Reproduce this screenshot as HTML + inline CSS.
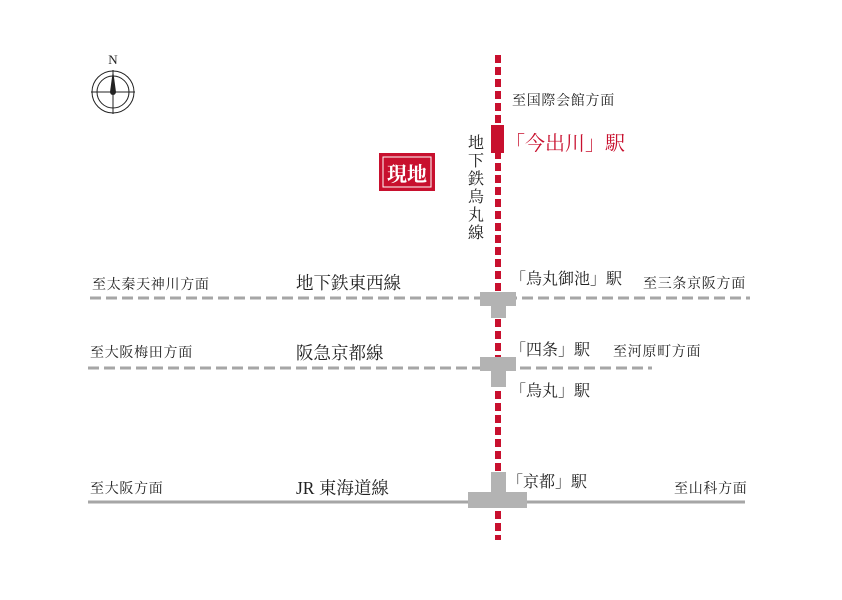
<!DOCTYPE html>
<html><head><meta charset="utf-8"><style>
body{margin:0;background:#fff}
svg text{font-family:"Liberation Serif","Noto Serif CJK SC",serif;fill:#222}
.s{font-size:14px;letter-spacing:0.7px}
.l{font-size:17.5px}
</style></head><body>
<svg width="842" height="595" viewBox="0 0 842 595" xmlns="http://www.w3.org/2000/svg">
<!-- compass -->
<g stroke="#222" fill="none" stroke-width="1">
<circle cx="113" cy="92" r="21"/><circle cx="113" cy="92" r="16"/>
<line x1="91" y1="92" x2="135" y2="92"/><line x1="113" y1="70" x2="113" y2="114"/>
</g>
<path d="M113 70 L116 92 A3 3 0 0 1 110 92 Z" fill="#222"/>
<text x="113" y="64" font-size="13" text-anchor="middle" font-family="Liberation Sans">N</text>
<!-- gray lines -->
<line x1="90" y1="298" x2="750" y2="298" stroke="#a6a6a6" stroke-width="3" stroke-dasharray="11,5"/>
<line x1="88" y1="368" x2="652" y2="368" stroke="#a6a6a6" stroke-width="3" stroke-dasharray="11,5"/>
<line x1="88" y1="502" x2="745" y2="502" stroke="#a6a6a6" stroke-width="3"/>
<!-- red line -->
<line x1="498" y1="55" x2="498" y2="540" stroke="#c8102e" stroke-width="6" stroke-dasharray="8,4"/>
<rect x="491" y="125" width="13" height="28" fill="#c8102e"/>
<!-- stations -->
<g fill="#b3b3b3">
<rect x="480" y="292" width="36" height="14"/><rect x="491" y="306" width="15" height="12"/>
<rect x="480" y="357" width="36" height="14"/><rect x="491" y="371" width="15" height="16"/>
<rect x="491" y="472" width="15" height="22"/><rect x="468" y="492" width="59" height="16"/>
</g>
<!-- genchi -->
<rect x="379" y="153" width="56" height="38" fill="#c8102e"/>
<rect x="383" y="157" width="48" height="30" fill="none" stroke="#fff" stroke-width="1"/>
<text x="407" y="181" font-size="20" text-anchor="middle" style="fill:#fff;font-weight:bold">現地</text>
<!-- labels -->
<text x="512" y="105" class="s">至国際会館方面</text>
<text x="505" y="150" font-size="20" style="fill:#c8102e">「今出川」駅</text>
<g font-size="16" text-anchor="middle">
<text x="476" y="148">地</text><text x="476" y="166">下</text><text x="476" y="184">鉄</text><text x="476" y="202">烏</text><text x="476" y="220">丸</text><text x="476" y="238">線</text>
</g>
<text x="92" y="289" class="s">至太秦天神川方面</text>
<text x="296" y="289" class="l">地下鉄東西線</text>
<text x="510" y="284" font-size="16">「烏丸御池」駅</text>
<text x="643" y="288" class="s">至三条京阪方面</text>
<text x="90" y="357" class="s">至大阪梅田方面</text>
<text x="296" y="359" class="l">阪急京都線</text>
<text x="510" y="355" font-size="16">「四条」駅</text>
<text x="613" y="356" class="s">至河原町方面</text>
<text x="510" y="396" font-size="16">「烏丸」駅</text>
<text x="90" y="493" class="s">至大阪方面</text>
<text x="296" y="494" class="l">JR 東海道線</text>
<text x="507" y="487" font-size="16">「京都」駅</text>
<text x="674" y="493" class="s">至山科方面</text>
</svg>
</body></html>
